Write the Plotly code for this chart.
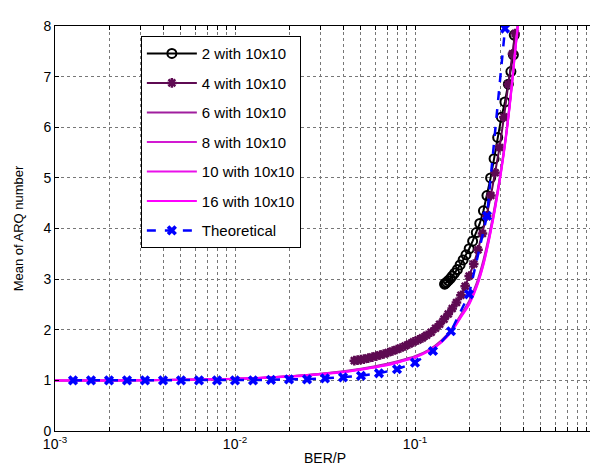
import plotly.graph_objects as go

# ---------------- data ----------------
x_theory = [10 ** (-3 + 0.1 * k) for k in range(1, 26)]
y_theory = [1.00, 1.00, 1.00, 1.00, 1.00, 1.00, 1.00, 1.00, 1.00, 1.00,
            1.00, 1.01, 1.02, 1.02, 1.04, 1.06, 1.09, 1.14, 1.22, 1.35,
            1.58, 1.97, 2.70, 4.25, 7.95]

x_2 = [0.146, 0.147, 0.148, 0.150, 0.153, 0.157, 0.161, 0.166, 0.172, 0.178,
       0.185, 0.192, 0.200, 0.209, 0.219, 0.229, 0.240, 0.251, 0.263, 0.275,
       0.288, 0.302, 0.316, 0.330, 0.341, 0.352, 0.356]
y_2 = [2.90, 2.91, 2.92, 2.94, 2.97, 3.01, 3.06, 3.12, 3.19, 3.28,
       3.38, 3.48, 3.60, 3.75, 3.92, 4.10, 4.35, 4.65, 5.00, 5.38,
       5.80, 6.20, 6.50, 6.85, 7.10, 7.43, 7.82]

x_4 = [0.046, 0.048, 0.050, 0.052, 0.055, 0.058, 0.061, 0.064, 0.067, 0.071,
       0.075, 0.079, 0.083, 0.088, 0.093, 0.098, 0.104, 0.110, 0.116, 0.123,
       0.130, 0.137, 0.145, 0.153, 0.161, 0.170, 0.180, 0.190, 0.200, 0.212,
       0.224, 0.237, 0.250, 0.264, 0.279, 0.295, 0.312, 0.330, 0.348, 0.360]
y_4 = [1.39, 1.40, 1.41, 1.42, 1.44, 1.46, 1.48, 1.50, 1.52, 1.55,
       1.58, 1.61, 1.64, 1.68, 1.72, 1.76, 1.80, 1.84, 1.89, 1.95,
       2.03, 2.11, 2.21, 2.31, 2.42, 2.54, 2.68, 2.86, 3.06, 3.30,
       3.58, 3.90, 4.25, 4.65, 5.10, 5.60, 6.20, 6.85, 7.45, 7.85]

x_pink = [0.001, 0.002, 0.005, 0.01, 0.02, 0.03, 0.04, 0.05, 0.06, 0.07,
          0.08, 0.09, 0.10, 0.12, 0.14, 0.16, 0.18, 0.20, 0.22, 0.24,
          0.26, 0.28, 0.30, 0.32, 0.34, 0.36, 0.375]
y_6 = [1.00, 1.00, 1.01, 1.03, 1.08, 1.13, 1.18, 1.23, 1.28, 1.33,
       1.38, 1.43, 1.48, 1.61, 1.79, 2.02, 2.30, 2.57, 2.92, 3.38,
       3.92, 4.52, 5.15, 5.85, 6.65, 7.55, 8.15]
y_8 = [1.00, 1.00, 1.01, 1.03, 1.08, 1.13, 1.17, 1.22, 1.27, 1.32,
       1.37, 1.42, 1.47, 1.60, 1.77, 2.00, 2.28, 2.54, 2.88, 3.33,
       3.88, 4.48, 5.12, 5.82, 6.62, 7.52, 8.12]
y_10 = [1.00, 1.00, 1.01, 1.03, 1.08, 1.12, 1.17, 1.22, 1.26, 1.31,
        1.36, 1.41, 1.46, 1.59, 1.76, 1.98, 2.26, 2.52, 2.86, 3.30,
        3.85, 4.45, 5.10, 5.80, 6.60, 7.50, 8.10]
y_16 = [1.00, 1.00, 1.01, 1.03, 1.07, 1.12, 1.16, 1.21, 1.26, 1.30,
        1.35, 1.40, 1.45, 1.58, 1.75, 1.97, 2.25, 2.50, 2.84, 3.28,
        3.83, 4.43, 5.08, 5.78, 6.58, 7.48, 8.08]

x_decades = [0.001, 0.01, 0.1, 1]
x_decade_labels = ["10<sup>-3</sup>", "10<sup>-2</sup>", "10<sup>-1</sup>", "10<sup>0</sup>"]
x_minor_digits = [2, 3, 4, 5, 6, 7, 8, 9]
y_tickvals = [0, 1, 2, 3, 4, 5, 6, 7, 8]

x_tickvals, x_ticktext = [], []
for i, d in enumerate(x_decades):
    x_tickvals.append(d)
    x_ticktext.append(x_decade_labels[i])
    if d < 1:
        for m in x_minor_digits:
            x_tickvals.append(d * m)
            x_ticktext.append("")

# ---------------- figure ----------------
FONT = "Liberation Sans, Arial, Helvetica, sans-serif"
fig = go.Figure()

fig.add_trace(go.Scatter(x=x_2, y=y_2, name="2 with 10x10", mode="lines+markers",
                         line=dict(color="black", width=2),
                         marker=dict(symbol="circle-open", size=9, color="black",
                                     line=dict(width=2, color="black")),
                         legendgroup="a"))
fig.add_trace(go.Scatter(x=x_4, y=y_4, name="4 with 10x10", mode="lines+markers",
                         line=dict(color="#5e0a52", width=2),
                         marker=dict(symbol="asterisk-open", size=8, color="#5e0a52",
                                     line=dict(width=2.5, color="#5e0a52")),
                         legendgroup="b"))
fig.add_trace(go.Scatter(x=x_pink, y=y_6, name="6 with 10x10", mode="lines",
                         line=dict(color="#a01e9e", width=2, shape="spline"), legendgroup="c"))
fig.add_trace(go.Scatter(x=x_pink, y=y_8, name="8 with 10x10", mode="lines",
                         line=dict(color="#d21ad2", width=2, shape="spline"), legendgroup="d"))
fig.add_trace(go.Scatter(x=x_pink, y=y_10, name="10 with 10x10", mode="lines",
                         line=dict(color="#ea10ea", width=2, shape="spline"), legendgroup="e"))
fig.add_trace(go.Scatter(x=x_pink, y=y_16, name="16 with 10x10", mode="lines",
                         line=dict(color="#ff00ff", width=2, shape="spline"), legendgroup="f"))
fig.add_trace(go.Scatter(x=x_theory, y=y_theory, name="Theoretical", mode="lines+markers",
                         line=dict(color="#0000ff", width=2.5, dash="dash"),
                         marker=dict(symbol="x", size=9, color="#0000ff",
                                     line=dict(width=0)),
                         legendgroup="g"))

axis_common = dict(showline=True, linecolor="black", linewidth=1, mirror="allticks",
                   ticks="inside", ticklen=4, tickcolor="black",
                   showgrid=True, gridcolor="#777777", griddash="dot", gridwidth=1,
                   zeroline=False, tickfont=dict(family=FONT, size=14, color="black"))

fig.update_xaxes(type="log", range=[-3, 0], tickvals=x_tickvals, ticktext=x_ticktext,
                 title=dict(text="BER/P", font=dict(family=FONT, size=14, color="black"),
                            standoff=2),
                 **axis_common)
fig.update_yaxes(range=[0, 8], tickvals=y_tickvals,
                 title=dict(text="Mean of ARQ number",
                            font=dict(family=FONT, size=13, color="black"), standoff=16),
                 **axis_common)

fig.update_layout(
    width=598, height=472,
    margin=dict(l=46, r=10, t=10, b=49),
    plot_bgcolor="white", paper_bgcolor="white",
    font=dict(family=FONT, size=13, color="black"),
    legend=dict(x=0.159, y=0.975, xanchor="left", yanchor="top",
                bgcolor="white", bordercolor="black", borderwidth=1,
                font=dict(family=FONT, size=15, color="black"),
                tracegroupgap=7, itemwidth=50),
    showlegend=True,
)

fig.write_html("out.html")
